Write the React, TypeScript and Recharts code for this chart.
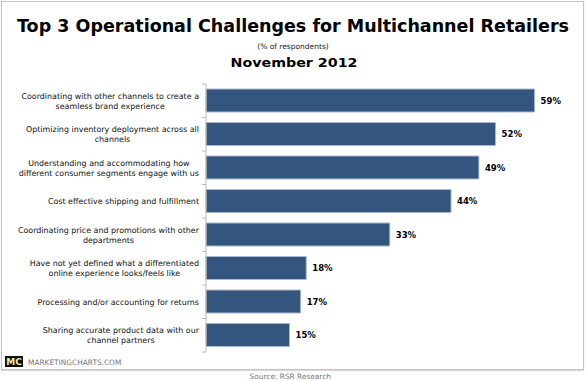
import { BarChart, Bar, XAxis, YAxis, LabelList } from 'recharts';

const categories = [
  'Coordinating with other channels to create a\nseamless brand experience',
  'Optimizing inventory deployment across all\nchannels',
  'Understanding and accommodating how\ndifferent consumer segments engage with us',
  'Cost effective shipping and fulfillment',
  'Coordinating price and promotions with other\ndepartments',
  'Have not yet defined what a differentiated\nonline experience looks/feels like',
  'Processing and/or accounting for returns',
  'Sharing accurate product data with our\nchannel partners',
];
const values = [59, 52, 49, 44, 33, 18, 17, 15];

const chartData = categories.map((name, i) => ({ name, value: values[i] }));

const FONT = "'DejaVu Sans', Verdana, sans-serif";
const LABEL_SIZE = 7.95;
const AXIS_WIDTH = 206;
const PLOT_TOP = 84;
const PLOT_HEIGHT = 268;
const BAND = PLOT_HEIGHT / categories.length;

let ctx: CanvasRenderingContext2D | null = null;
const measure = (s: string) => {
  if (!ctx) ctx = document.createElement('canvas').getContext('2d');
  if (!ctx) return s.length * 4.2;
  ctx.font = `${LABEL_SIZE}px 'DejaVu Sans'`;
  return ctx.measureText(s).width;
};

const CategoryTick = (props: any) => {
  const { y, payload, index } = props;
  const lines: string[] = String(payload.value).split('\n');
  const maxW = Math.max(...lines.map(measure));
  const right = AXIS_WIDTH - 7;
  const cx = right - maxW / 2;
  const lh = 10;
  const startY = y - ((lines.length - 1) * lh) / 2;
  return (
    <g>
      <line x1={AXIS_WIDTH - 4} x2={AXIS_WIDTH} y1={y - BAND / 2} y2={y - BAND / 2} stroke="#bbb" />
      {index === categories.length - 1 && (
        <line x1={AXIS_WIDTH - 4} x2={AXIS_WIDTH} y1={y + BAND / 2} y2={y + BAND / 2} stroke="#bbb" />
      )}
      <text x={cx} y={startY} textAnchor="middle" dominantBaseline="central" fontFamily={FONT} fontSize={LABEL_SIZE} fill="#111">
        {lines.map((l, i) => (
          <tspan key={i} x={cx} y={startY + i * lh}>
            {l}
          </tspan>
        ))}
      </text>
    </g>
  );
};

export default function App() {
  return (
    <div style={{ position: 'absolute', left: 0, top: 0, width: 585, height: 381, background: '#fff', fontFamily: FONT }}>
      <div
        style={{
          position: 'absolute',
          left: 1,
          top: 1,
          width: 581,
          height: 367,
          border: '1px solid #c4c4c4',
          boxShadow: '0 1px 1px #d8d8d8',
        }}
      />
      <svg width={585} height={80} style={{ position: 'absolute', left: 0, top: 0 }}>
        <text x={293} y={32} textAnchor="middle" fontFamily={FONT} fontWeight="bold" fontSize={17} textLength={552} lengthAdjust="spacingAndGlyphs" fill="#000">
          Top 3 Operational Challenges for Multichannel Retailers
        </text>
        <text x={293} y={49} textAnchor="middle" fontFamily={FONT} fontSize={7.5} fill="#222">
          (% of respondents)
        </text>
        <text x={294} y={67} textAnchor="middle" fontFamily={FONT} fontWeight="bold" fontSize={13} textLength={127} lengthAdjust="spacingAndGlyphs" fill="#000">
          November 2012
        </text>
      </svg>
      <div style={{ position: 'absolute', left: 0, top: 0 }}>
        <BarChart
          width={585}
          height={360}
          data={chartData}
          layout="vertical"
          margin={{ top: PLOT_TOP, right: 17, bottom: 360 - PLOT_TOP - PLOT_HEIGHT, left: 0 }}
        >
          <XAxis type="number" domain={[0, 65]} hide />
          <YAxis
            type="category"
            dataKey="name"
            width={AXIS_WIDTH}
            axisLine={{ stroke: '#bbb' }}
            tickLine={false}
            interval={0}
            tick={<CategoryTick />}
          />
          <Bar dataKey="value" fill="#33557e" stroke="#a9bad0" strokeWidth={1} barSize={23} isAnimationActive={false}>
            <LabelList
              dataKey="value"
              position="right"
              offset={6}
              formatter={(v: any) => `${v}%`}
              fill="#000"
              fontFamily={FONT}
              fontWeight="bold"
              fontSize={8.5}
            />
          </Bar>
        </BarChart>
      </div>
      <svg width={585} height={381} style={{ position: 'absolute', left: 0, top: 0, pointerEvents: 'none' }}>
        <rect x={5} y={356} width={18} height={11} fill="#111" />
        <text x={14} y={364.5} textAnchor="middle" fontFamily={FONT} fontWeight="bold" fontSize={9} fill="#f2e9a8">
          MC
        </text>
        <text x={28} y={365} fontFamily={FONT} fontSize={7.4} fill="#777">
          MARKETINGCHARTS.COM
        </text>
        <text x={331} y={379} textAnchor="end" fontFamily={FONT} fontSize={7.4} fill="#777">
          Source: RSR Research
        </text>
      </svg>
    </div>
  );
}
